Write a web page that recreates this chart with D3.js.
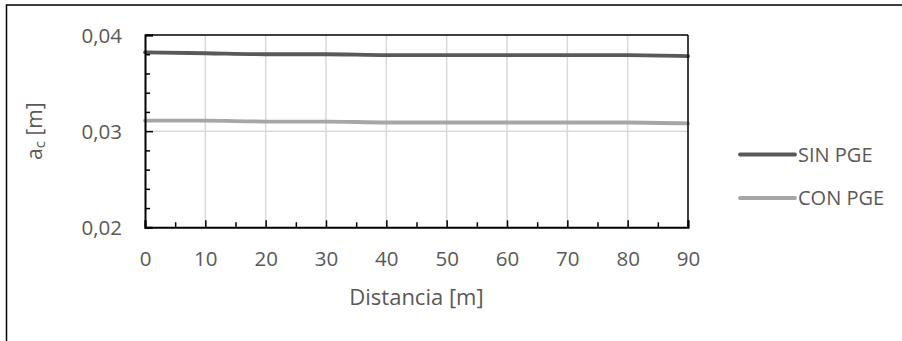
<!DOCTYPE html>
<html>
<head>
<meta charset="utf-8">
<script src="https://cdn.jsdelivr.net/npm/d3@7"></script>
<style>
  html, body { margin: 0; padding: 0; background: #fff; }
  svg { display: block; }
  text { font-family: "Open Sans", sans-serif; fill: #595959; }
</style>
</head>
<body>
<svg id="chart" width="902" height="341"></svg>
<script>
// ---- data ----
const distancias = [0, 10, 20, 30, 40, 50, 60, 70, 80, 90];
const sinPGE = [0.0382, 0.0381, 0.0380, 0.0380, 0.0379, 0.0379, 0.0379, 0.0379, 0.0379, 0.0378];
const conPGE = [0.0311, 0.0311, 0.0310, 0.0310, 0.0309, 0.0309, 0.0309, 0.0309, 0.0309, 0.0308];
const seriesNames = ["SIN PGE", "CON PGE"];
const seriesColors = ["#595959", "#a6a6a6"];
const xTicks = [0, 10, 20, 30, 40, 50, 60, 70, 80, 90];
const xMinorTicks = [5, 15, 25, 35, 45, 55, 65, 75, 85];
const yTicks = [0.02, 0.03, 0.04];
const yMinorTicks = [0.022, 0.024, 0.026, 0.028, 0.032, 0.034, 0.036, 0.038];

const svg = d3.select("#chart");

// outer frame (right and bottom edges lie outside the picture)
svg.append("rect").attr("x", 6.5).attr("y", 5).attr("width", 1000).attr("height", 400)
  .attr("fill", "none").attr("stroke", "#000").attr("stroke-width", 1.5);

const L = 145, R = 688, T = 35, B = 227.3;
const x = d3.scaleLinear().domain([0, 90]).range([L, R]);
const y = d3.scaleLinear().domain([0.02, 0.04]).range([B, T]);

// gridlines
const g = svg.append("g");
g.selectAll(".vg").data(xTicks.slice(1, -1)).enter().append("line")
  .attr("x1", d => x(d)).attr("x2", d => x(d)).attr("y1", T).attr("y2", B)
  .attr("stroke", "#d9d9d9").attr("stroke-width", 1.5);
g.selectAll(".hg").data(yTicks.slice(1, -1)).enter().append("line")
  .attr("x1", L).attr("x2", R).attr("y1", d => y(d)).attr("y2", d => y(d))
  .attr("stroke", "#d9d9d9").attr("stroke-width", 1.5);

// series lines
const line = d3.line().x((d, i) => x(distancias[i])).y(d => y(d)).curve(d3.curveMonotoneX);
[sinPGE, conPGE].forEach((s, i) => {
  svg.append("path").datum(s).attr("d", line)
    .attr("fill", "none").attr("stroke", seriesColors[i]).attr("stroke-width", 3.8)
    .attr("stroke-linecap", "round");
});

// plot border (top & right)
svg.append("line").attr("x1", L).attr("x2", R).attr("y1", T).attr("y2", T)
  .attr("stroke", "#000").attr("stroke-width", 1.5);
svg.append("line").attr("x1", R).attr("x2", R).attr("y1", T).attr("y2", B)
  .attr("stroke", "#000").attr("stroke-width", 1.5);

// axes
const xAxis = svg.append("g").attr("transform", `translate(0,${B})`)
  .call(d3.axisBottom(x).tickValues(xTicks).tickSize(-7).tickPadding(0).tickFormat(d3.format("d")));
xAxis.select(".domain").attr("stroke", "#000").attr("stroke-width", 2);
xAxis.selectAll(".tick line").attr("stroke", "#000").attr("stroke-width", 1.5);
xAxis.selectAll(".tick text").attr("y", 39).attr("dy", null)
  .style("font-size", "20.5px").style("font-family", "Open Sans").attr("fill", "#595959");
const xMinor = svg.append("g").attr("transform", `translate(0,${B})`)
  .call(d3.axisBottom(x).tickValues(xMinorTicks).tickSize(-5).tickFormat(""));
xMinor.select(".domain").remove();
xMinor.selectAll(".tick line").attr("stroke", "#000").attr("stroke-width", 1.5);

const fmt = v => d3.format(".2f")(v).replace(".", ",");
const yAxis = svg.append("g").attr("transform", `translate(${L},0)`)
  .call(d3.axisLeft(y).tickValues(yTicks).tickSize(-8).tickPadding(0).tickFormat(fmt));
yAxis.select(".domain").attr("stroke", "#000").attr("stroke-width", 2);
yAxis.selectAll(".tick line").attr("stroke", "#000").attr("stroke-width", 1.5);
yAxis.selectAll(".tick text").attr("x", -23).attr("dy", "0.36em")
  .style("font-size", "20.5px").style("font-family", "Open Sans").attr("fill", "#595959");
const yMinor = svg.append("g").attr("transform", `translate(${L},0)`)
  .call(d3.axisLeft(y).tickValues(yMinorTicks).tickSize(-5).tickFormat(""));
yMinor.select(".domain").remove();
yMinor.selectAll(".tick line").attr("stroke", "#000").attr("stroke-width", 1.5);

// axis titles
svg.append("text").attr("x", (L + R) / 2).attr("y", 305).attr("text-anchor", "middle")
  .style("font-size", "22px").text("Distancia [m]");
const yt = svg.append("text").attr("transform", `translate(42,${(T + B) / 2}) rotate(-90)`)
  .attr("text-anchor", "middle").style("font-size", "21px");
yt.append("tspan").text("a");
yt.append("tspan").attr("dy", 3).style("font-size", "15px").text("c");
yt.append("tspan").attr("dy", -3).text(" [m]");

// legend
const legY = [154.5, 198];
seriesNames.forEach((n, i) => {
  svg.append("line").attr("x1", 740).attr("x2", 795).attr("y1", legY[i]).attr("y2", legY[i])
    .attr("stroke", seriesColors[i]).attr("stroke-width", 3.8).attr("stroke-linecap", "round");
  svg.append("text").attr("x", 798).attr("y", legY[i]).attr("dy", "0.36em")
    .style("font-size", "20px").text(n);
});
</script>
</body>
</html>
